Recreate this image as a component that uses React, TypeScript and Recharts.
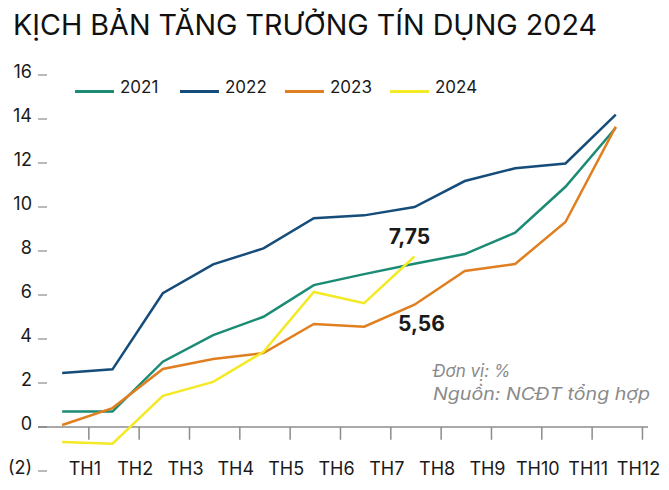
import React from 'react';
import { LineChart, Line, XAxis, YAxis, ReferenceLine, LabelList } from 'recharts';

const months = ['TH1', 'TH2', 'TH3', 'TH4', 'TH5', 'TH6', 'TH7', 'TH8', 'TH9', 'TH10', 'TH11', 'TH12'];
const y2021 = [0.7, 0.7, 2.97, 4.18, 5.01, 6.45, 6.95, 7.42, 7.86, 8.83, 10.92, 13.6];
const y2022 = [2.45, 2.62, 6.08, 7.39, 8.12, 9.49, 9.62, 10.0, 11.18, 11.76, 11.98, 14.2];
const y2023 = [0.09, 0.86, 2.64, 3.09, 3.36, 4.68, 4.56, 5.56, 7.09, 7.41, 9.32, 13.65];
const y2024 = [-0.68, -0.76, 1.42, 2.05, 3.42, 6.14, 5.63, 7.75];
const yTicks = [-2, 0, 2, 4, 6, 8, 10, 12, 14, 16];

const FONT = 'Inter, "Noto Sans", sans-serif';

const series = [
  { key: 'y2021', name: '2021', color: '#1b8b74' },
  { key: 'y2022', name: '2022', color: '#154c7a' },
  { key: 'y2023', name: '2023', color: '#e07f1f' },
  { key: 'y2024', name: '2024', color: '#f4e925' },
];

const data = months.map((m, i) => ({
  idx: i + 1,
  month: m,
  y2021: y2021[i],
  y2022: y2022[i],
  y2023: y2023[i],
  y2024: i < y2024.length ? y2024[i] : null,
}));

// tick marks sit half a step to the right of each month's point
const xTicks = months.map((_, i) => i + 1.53);

const fmt = (v: number) => v.toFixed(2).replace('.', ',');

const XTick = (props: any) => {
  const { x, y, index } = props;
  return (
    <text x={x - 4} y={y + 3.5} textAnchor="middle" fontSize={18} fill="#1a1a1a" fontFamily={FONT}>
      {months[index]}
    </text>
  );
};

const YTick = (props: any) => {
  const { x, y, payload } = props;
  const v = payload.value as number;
  const label = v < 0 ? `(${Math.abs(v)})` : String(v);
  return (
    <g>
      <text x={x - 6} y={y + 2.5} textAnchor="end" fontSize={18} fill="#1a1a1a" fontFamily={FONT}>
        {label}
      </text>
      <line x1={x} x2={x + 9} y1={y} y2={y} stroke="#777" strokeWidth={1} />
    </g>
  );
};

const endLabel = (lastIdx: number, dx: number, dy: number) => (props: any) => {
  const { x, y, value, index } = props;
  if (index !== lastIdx || value == null) return null;
  return (
    <text x={x + dx} y={y + dy} textAnchor="middle" fontSize={21} fontWeight={700} fill="#1a1a1a" fontFamily={FONT}>
      {fmt(value)}
    </text>
  );
};

export default function App() {
  return (
    <div style={{ position: 'absolute', left: 0, top: 0, width: 669, height: 490, background: '#fff', fontFamily: FONT }}>
      <LineChart width={669} height={490} data={data} margin={{ top: 75, right: 21, bottom: 0, left: 0 }}>
        <XAxis
          type="number"
          dataKey="idx"
          domain={[0.52, 12.64]}
          ticks={xTicks}
          interval={0}
          axisLine={false}
          tickLine={false}
          tickSize={0}
          tickMargin={0}
          height={19}
          tick={<XTick />}
          allowDataOverflow
        />
        <YAxis
          domain={[-2, 16]}
          ticks={yTicks}
          interval={0}
          width={38}
          axisLine={false}
          tickLine={false}
          tickSize={0}
          tickMargin={0}
          tick={<YTick />}
          allowDataOverflow
        />
        <ReferenceLine y={0} stroke="#8c8c8c" strokeWidth={1.5} />
        {xTicks.map((t) => (
          <ReferenceLine
            key={t}
            segment={[{ x: t, y: 0 }, { x: t, y: -0.58 }]}
            stroke="#8c8c8c"
            strokeWidth={1.5}
          />
        ))}
        {series.map((s) => (
          <Line
            key={s.key}
            type="linear"
            dataKey={s.key}
            name={s.name}
            stroke={s.color}
            strokeWidth={2.5}
            dot={false}
            activeDot={false}
            isAnimationActive={false}
          >
            {s.key === 'y2024' && <LabelList dataKey={s.key} content={endLabel(7, -5, -12.5)} />}
            {s.key === 'y2023' && <LabelList dataKey={s.key} content={endLabel(7, 7, 26)} />}
          </Line>
        ))}
      </LineChart>

      <div style={{ position: 'absolute', left: 75, top: 79, display: 'flex', alignItems: 'center' }}>
        {series.map((s) => (
          <div key={s.key} style={{ display: 'flex', alignItems: 'flex-end', width: 105, height: 16 }}>
            <div style={{ width: 39, height: 3, background: s.color, marginBottom: 2, marginRight: 6 }} />
            <span style={{ fontSize: 17, lineHeight: '16px', color: '#1a1a1a' }}>{s.name}</span>
          </div>
        ))}
      </div>

      <svg width={669} height={490} style={{ position: 'absolute', left: 0, top: 0, pointerEvents: 'none' }}>
        <text x={13} y={35} fontSize={28} fill="#111" fontFamily={FONT} textLength={584} lengthAdjust="spacingAndGlyphs">
          KỊCH BẢN TĂNG TRƯỞNG TÍN DỤNG 2024
        </text>
        <text x={433} y={377} fontSize={17} fontStyle="italic" fill="#8a8a8a" fontFamily={FONT}>
          Đơn vị: %
        </text>
        <text x={433} y={400} fontSize={17} fontStyle="italic" fill="#8a8a8a" fontFamily={FONT} textLength={217} lengthAdjust="spacingAndGlyphs">
          Nguồn: NCĐT tổng hợp
        </text>
      </svg>
    </div>
  );
}
